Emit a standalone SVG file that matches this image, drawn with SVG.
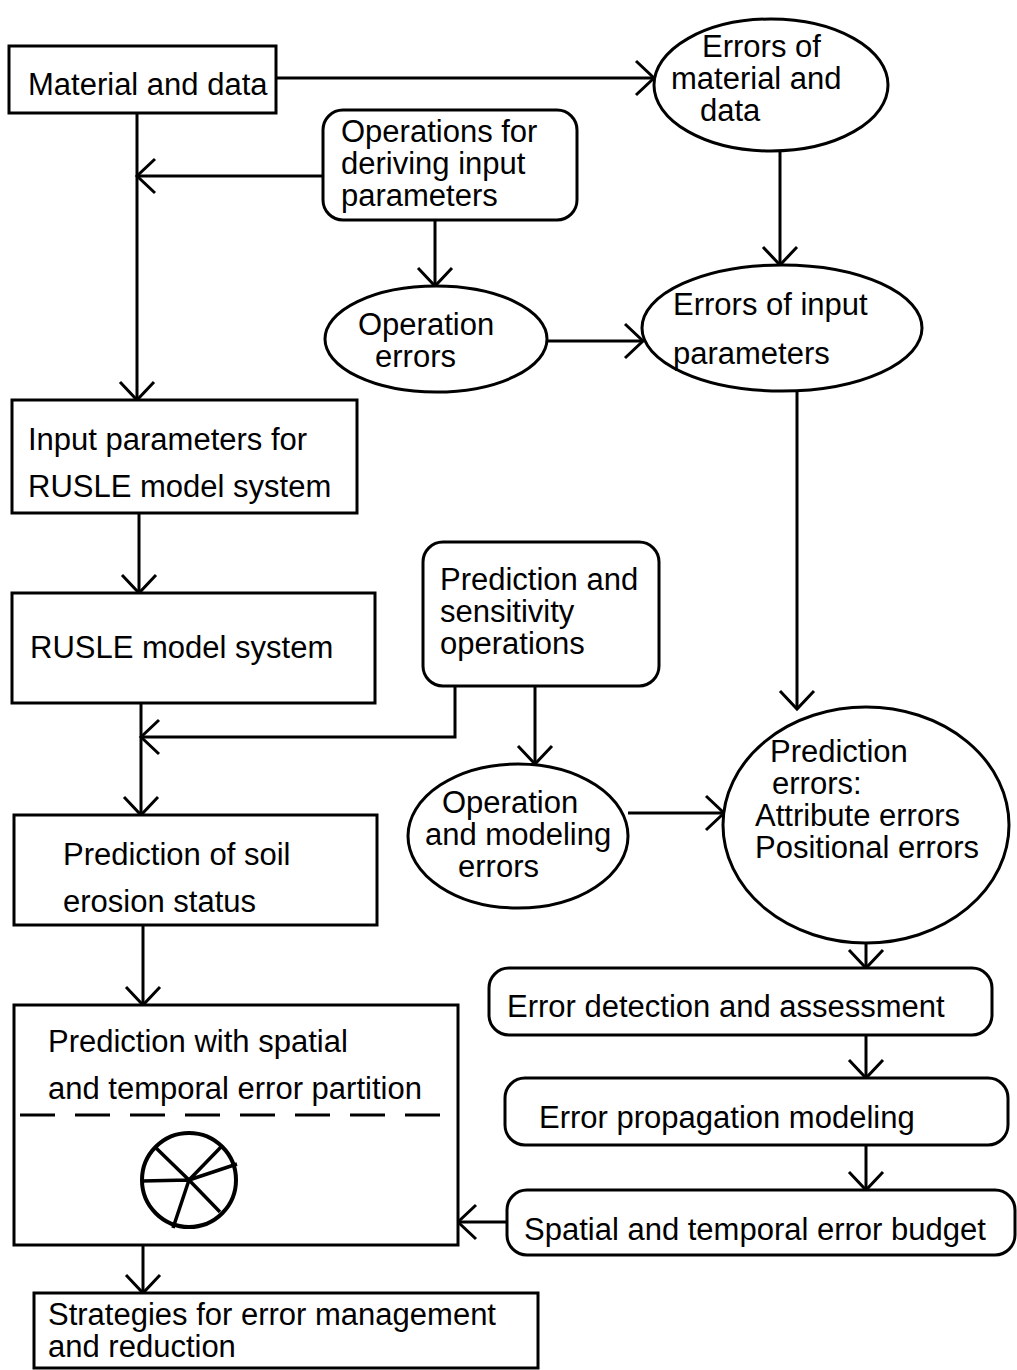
<svg xmlns="http://www.w3.org/2000/svg" width="1017" height="1370" viewBox="0 0 1017 1370">
<defs>
<style>
.box{fill:#fff;stroke:#000;stroke-width:3}
.con{fill:none;stroke:#000;stroke-width:3}
.t{font-family:"Liberation Sans",Arial,sans-serif;font-size:31px;fill:#000}
</style>
<marker id="ah" markerUnits="userSpaceOnUse" markerWidth="40" markerHeight="40" viewBox="0 0 40 40" refX="20" refY="20" orient="auto" overflow="visible">
<path d="M2 3 L20 20 L2 37" fill="none" stroke="#000" stroke-width="3"/>
</marker>
</defs>
<rect width="1017" height="1370" fill="#fff"/>
<g id="connectors">
<path class="con" d="M276 78 H654" marker-end="url(#ah)"/>
<path class="con" d="M780 151 V265" marker-end="url(#ah)"/>
<path class="con" d="M137 113 V400" marker-end="url(#ah)"/>
<path class="con" d="M323 176 H137" marker-end="url(#ah)"/>
<path class="con" d="M435 220 V286" marker-end="url(#ah)"/>
<path class="con" d="M547 341 H643" marker-end="url(#ah)"/>
<path class="con" d="M797 391 V709" marker-end="url(#ah)"/>
<path class="con" d="M139 513 V593" marker-end="url(#ah)"/>
<path class="con" d="M141 703 V815" marker-end="url(#ah)"/>
<path class="con" d="M455 686 V737 H141" marker-end="url(#ah)"/>
<path class="con" d="M535 686 V764" marker-end="url(#ah)"/>
<path class="con" d="M628 813 H724" marker-end="url(#ah)"/>
<path class="con" d="M143 925 V1005" marker-end="url(#ah)"/>
<path class="con" d="M866 943 V968" marker-end="url(#ah)"/>
<path class="con" d="M866 1035 V1078" marker-end="url(#ah)"/>
<path class="con" d="M866 1145 V1190" marker-end="url(#ah)"/>
<path class="con" d="M507 1222 H458" marker-end="url(#ah)"/>
<path class="con" d="M143 1245 V1293" marker-end="url(#ah)"/>
</g>
<g id="material">
<rect class="box" x="9" y="46" width="267" height="67"/>
<text class="t" x="28" y="95">Material and data</text>
</g>
<g id="errors-material">
<ellipse class="box" cx="771" cy="85" rx="117" ry="66"/>
<text class="t" x="702" y="57">Errors of</text>
<text class="t" x="671" y="89">material and</text>
<text class="t" x="700" y="121">data</text>
</g>
<g id="operations-deriving">
<rect class="box" x="323" y="110" width="254" height="110" rx="20"/>
<text class="t" x="341" y="142">Operations for</text>
<text class="t" x="341" y="174">deriving input</text>
<text class="t" x="341" y="206">parameters</text>
</g>
<g id="operation-errors">
<ellipse class="box" cx="436" cy="339" rx="111" ry="53"/>
<text class="t" x="358" y="335">Operation</text>
<text class="t" x="375" y="367">errors</text>
</g>
<g id="errors-input">
<ellipse class="box" cx="782" cy="328" rx="140" ry="63"/>
<text class="t" x="673" y="315">Errors of input</text>
<text class="t" x="673" y="364">parameters</text>
</g>
<g id="input-parameters">
<rect class="box" x="12" y="400" width="345" height="113"/>
<text class="t" x="28" y="450">Input parameters for</text>
<text class="t" x="28" y="497">RUSLE model system</text>
</g>
<g id="rusle">
<rect class="box" x="12" y="593" width="363" height="110"/>
<text class="t" x="30" y="658">RUSLE model system</text>
</g>
<g id="prediction-sensitivity">
<rect class="box" x="423" y="542" width="236" height="144" rx="20"/>
<text class="t" x="440" y="590">Prediction and</text>
<text class="t" x="440" y="622">sensitivity</text>
<text class="t" x="440" y="654">operations</text>
</g>
<g id="operation-modeling-errors">
<ellipse class="box" cx="518" cy="836" rx="110" ry="72"/>
<text class="t" x="442" y="813">Operation</text>
<text class="t" x="425" y="845">and modeling</text>
<text class="t" x="458" y="877">errors</text>
</g>
<g id="prediction-errors">
<ellipse class="box" cx="866" cy="825" rx="143" ry="118"/>
<text class="t" x="770" y="762">Prediction</text>
<text class="t" x="772" y="794">errors:</text>
<text class="t" x="755" y="826">Attribute errors</text>
<text class="t" x="755" y="858">Positional errors</text>
</g>
<g id="prediction-soil">
<rect class="box" x="14" y="815" width="363" height="110"/>
<text class="t" x="63" y="865">Prediction of soil</text>
<text class="t" x="63" y="912">erosion status</text>
</g>
<g id="prediction-spatial">
<rect class="box" x="14" y="1005" width="444" height="240"/>
<text class="t" x="48" y="1052">Prediction with spatial</text>
<text class="t" x="48" y="1099">and temporal error partition</text>
<line x1="20" y1="1115" x2="455" y2="1115" stroke="#000" stroke-width="3" stroke-dasharray="35 20"/>
<circle cx="189" cy="1180" r="47" fill="none" stroke="#000" stroke-width="4"/>
<path d="M189 1180 L155 1147 M189 1180 L142 1181 M189 1180 L221 1147 M189 1180 L237 1164 M189 1180 L220 1212 M189 1180 L173 1228" fill="none" stroke="#000" stroke-width="3.5"/>
</g>
<g id="error-detection">
<rect class="box" x="489" y="968" width="503" height="67" rx="20"/>
<text class="t" x="507" y="1017">Error detection and assessment</text>
</g>
<g id="error-propagation">
<rect class="box" x="505" y="1078" width="503" height="67" rx="20"/>
<text class="t" x="539" y="1128">Error propagation modeling</text>
</g>
<g id="error-budget">
<rect class="box" x="507" y="1190" width="508" height="65" rx="20"/>
<text class="t" x="524" y="1240">Spatial and temporal error budget</text>
</g>
<g id="strategies">
<rect class="box" x="34" y="1293" width="504" height="75"/>
<text class="t" x="48" y="1325">Strategies for error management</text>
<text class="t" x="48" y="1357">and reduction</text>
</g>
</svg>
